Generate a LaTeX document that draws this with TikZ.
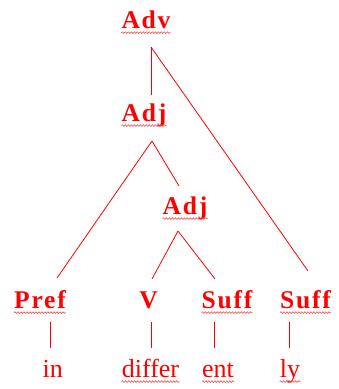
\documentclass[tikz,border=0pt]{standalone}
\usepackage{fontspec}
\setmainfont{Liberation Serif}
\newfontfamily\catfont[LetterSpace=7]{Liberation Serif}
\usetikzlibrary{decorations.pathmorphing}
\definecolor{treered}{RGB}{255,0,0}
\definecolor{squiggle}{RGB}{240,70,70}
\tikzset{
  squig/.style={draw=squiggle, line width=0.55pt, decorate,
                decoration={snake, segment length=3pt, amplitude=0.9pt}},
  cat/.style={anchor=base, inner sep=0pt, text=treered,
              font=\catfont\fontsize{25.5}{25.5}\selectfont\bfseries},
  word/.style={anchor=base, inner sep=0pt, text=treered,
               font=\fontsize{26}{26}\selectfont},
  branch/.style={draw=treered, line width=0.8pt}
}
\begin{document}
\begin{tikzpicture}[x=1pt, y=-1pt]
\useasboundingbox (0,0) rectangle (339,389);

% category labels
\node[cat] (adv)   at (146,28)    {Adv};
\node[cat] (adj)   at (144,121)   {Adj};
\node[cat] (adjb)  at (185,214)   {Adj};
\node[cat] (pref)  at (40,308)    {Pref};
\node[cat] (verb)  at (148.5,308) {V};
\node[cat] (suffa) at (227,308)   {Suff};
\node[cat] (suffb) at (305.5,308) {Suff};

% morphemes
\node[word] (win)     at (52.7,377)  {in};
\node[word] (wdiffer) at (150.5,377) {differ};
\node[word] (went)    at (218,377)   {ent};
\node[word] (wly)     at (290,377)   {ly};

% wavy underlines
\foreach \n in {adv,adj,adjb,pref,suffa,suffb,wdiffer,went,wly}
  \draw[squig] ([yshift=-4.6pt]\n.base west) -- ([yshift=-4.6pt]\n.base east);

% branches
\draw[branch] ([shift={(5,19)}]adv.base) -- ([shift={(7,-26)}]adj.base);
\draw[branch] ([shift={(5,19)}]adv.base) -- ([shift={(2.5,-37)}]suffb.base);
\draw[branch] ([shift={(8,20)}]adj.base) -- ([shift={(17,-30)}]pref.base);
\draw[branch] ([shift={(8,20)}]adj.base) -- ([shift={(-6,-28)}]adjb.base);
\draw[branch] ([shift={(-7,17)}]adjb.base) -- ([shift={(3.5,-29)}]verb.base);
\draw[branch] ([shift={(-7,17)}]adjb.base) -- ([shift={(-12,-29)}]suffa.base);

% leaves
\draw[branch] ([shift={(10,14)}]pref.base) -- ([shift={(-2.7,-29)}]win.base);
\draw[branch] ([shift={(3.2,14)}]verb.base) -- ([shift={(1.2,-29)}]wdiffer.base);
\draw[branch] ([shift={(-13,14)}]suffa.base) -- ([shift={(-4,-29)}]went.base);
\draw[branch] ([shift={(-16.5,14)}]suffb.base) -- ([shift={(-1,-29)}]wly.base);
\end{tikzpicture}
\end{document}
